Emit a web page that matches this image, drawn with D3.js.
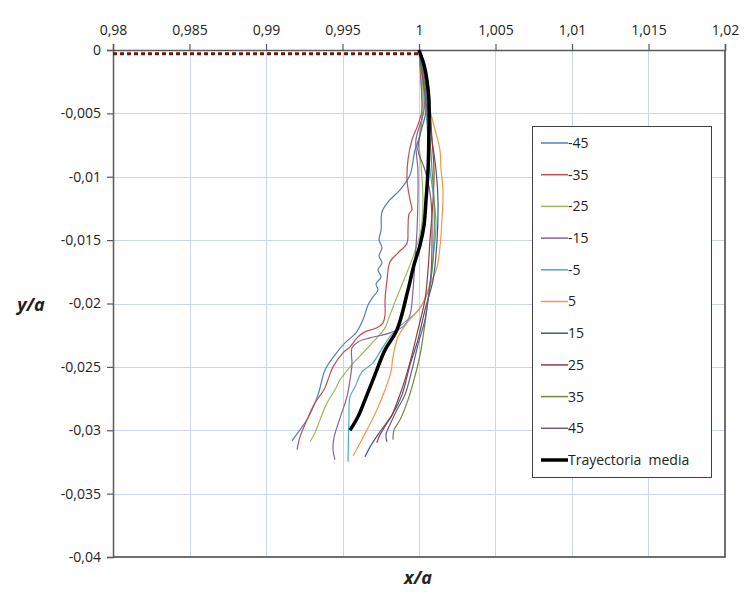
<!DOCTYPE html>
<html>
<head>
<meta charset="utf-8">
<script src="https://cdn.jsdelivr.net/npm/d3@7"></script>
<style>
  body { margin: 0; background: #fff; }
  svg { display: block; font-family: "Open Sans", "Liberation Sans", sans-serif; }
</style>
</head>
<body>
<div id="chart"></div>
<script>
const width = 744
const height = 592

// tick values
const xTicks = [0.98, 0.985, 0.99, 0.995, 1, 1.005, 1.01, 1.015, 1.02]
const yTicks = [0, -0.005, -0.01, -0.015, -0.02, -0.025, -0.03, -0.035, -0.04]

// series names, legend order
const seriesNames = ['-45', '-35', '-25', '-15', '-5', '5', '15', '25', '35', '45']
const seriesColors = ['#4F81BD', '#C0504D', '#9BBB59', '#8064A2', '#4BACC6', '#F79646', '#3D5C82', '#9A3B38', '#6E8A3A', '#6A5A85']

// [x/a, y/a]
const sM45 = [[1,0],[1.00013,-0.00237],[1.0002,-0.00473],[1.00007,-0.0067],[0.99974,-0.00789],[0.99941,-0.00986],[0.99876,-0.01104],[0.99797,-0.01199],[0.99758,-0.01278],[0.99752,-0.0142],[0.99739,-0.01498],[0.99758,-0.01561],[0.99739,-0.01625],[0.99758,-0.0168],[0.99732,-0.01735],[0.99752,-0.0179],[0.99719,-0.01845],[0.99732,-0.01893],[0.99699,-0.01948],[0.99667,-0.02011],[0.99634,-0.02129],[0.99588,-0.02232],[0.99516,-0.02311],[0.99451,-0.02405],[0.99386,-0.02524],[0.9934,-0.02721],[0.99275,-0.02902],[0.99222,-0.02997],[0.9917,-0.03083]]
const sM35 = [[1,0],[1.00013,-0.00237],[1.0002,-0.00473],[0.99993,-0.00591],[0.99954,-0.0071],[0.99928,-0.00867],[0.99922,-0.01025],[0.99941,-0.01183],[0.99954,-0.01262],[0.99935,-0.01293],[0.99928,-0.0142],[0.99922,-0.01522],[0.99863,-0.01601],[0.9981,-0.01672],[0.99791,-0.01814],[0.99778,-0.01972],[0.99778,-0.0209],[0.99765,-0.02153],[0.99725,-0.02192],[0.99647,-0.02224],[0.99601,-0.02263],[0.99549,-0.02342],[0.99503,-0.02389],[0.99438,-0.025],[0.99405,-0.02602],[0.99379,-0.02681],[0.9932,-0.02784],[0.99268,-0.02918],[0.99222,-0.03052],[0.99203,-0.03154]]
const sM25 = [[1,0],[1.0002,-0.00237],[1.00026,-0.00473],[1,-0.0071],[1.00013,-0.00907],[1.00026,-0.01183],[1.00013,-0.0142],[0.99961,-0.01632],[0.99928,-0.01735],[0.99856,-0.01948],[0.9981,-0.0209],[0.99778,-0.02192],[0.99712,-0.02287],[0.99634,-0.02389],[0.99549,-0.025],[0.99484,-0.02602],[0.99451,-0.02681],[0.99399,-0.02784],[0.99353,-0.02918],[0.9932,-0.0302],[0.99288,-0.03091]]
const sM15 = [[1,0],[1.00026,-0.00237],[1.00033,-0.00473],[0.9998,-0.0071],[0.99993,-0.00946],[0.99993,-0.01183],[0.99987,-0.0142],[0.99974,-0.01656],[0.99961,-0.01893],[0.99941,-0.0209],[0.99902,-0.02176],[0.9981,-0.02232],[0.9968,-0.02271],[0.99601,-0.02303],[0.99562,-0.0235],[0.99562,-0.02484],[0.99549,-0.02602],[0.99529,-0.02736],[0.99484,-0.02902],[0.99444,-0.0306],[0.99438,-0.03154],[0.99451,-0.03233]]
const sM5 = [[1,0],[1.00026,-0.00237],[1.00046,-0.00473],[1.00059,-0.0071],[1.00072,-0.00946],[1.00098,-0.01183],[1.00111,-0.0138],[1.00098,-0.01577],[1.00085,-0.01735],[1.00052,-0.01932],[0.99987,-0.02066],[0.99908,-0.02145],[0.9983,-0.02232],[0.99765,-0.02342],[0.99699,-0.02468],[0.99627,-0.02539],[0.99582,-0.02658],[0.99549,-0.02736],[0.99542,-0.02918],[0.99536,-0.03249]]
const sP5 = [[1,0],[1.00039,-0.00237],[1.00072,-0.00473],[1.00105,-0.00631],[1.00137,-0.00789],[1.00144,-0.00946],[1.00157,-0.01104],[1.0015,-0.01341],[1.00137,-0.01554],[1.00118,-0.01711],[1.00059,-0.01893],[1.0002,-0.02011],[0.99922,-0.02153],[0.99863,-0.02263],[0.9983,-0.02421],[0.99817,-0.02539],[0.99778,-0.02681],[0.99725,-0.02839],[0.9966,-0.02997],[0.99601,-0.03131],[0.99569,-0.03202]]
const sP15 = [[1,0],[1.00033,-0.00237],[1.00059,-0.00473],[1.00085,-0.0071],[1.00111,-0.00946],[1.00124,-0.01183],[1.00118,-0.01498],[1.00092,-0.01814],[1.00039,-0.0205],[0.99993,-0.02287],[0.99941,-0.02484],[0.99889,-0.02721],[0.99824,-0.02879],[0.99745,-0.03012],[0.9968,-0.03131],[0.99647,-0.0321]]
const sP25 = [[1,0],[1.00039,-0.00237],[1.00072,-0.00473],[1.00085,-0.0071],[1.00098,-0.00946],[1.00092,-0.01183],[1.00072,-0.01498],[1.00059,-0.01735],[1.00039,-0.01972],[0.99993,-0.02208],[0.99954,-0.02405],[0.99908,-0.02602],[0.99863,-0.0276],[0.99824,-0.02879],[0.99784,-0.02957],[0.99739,-0.03052],[0.99725,-0.03099]]
const sP35 = [[1,0],[1.00033,-0.00237],[1.00052,-0.00473],[1.00072,-0.0071],[1.00085,-0.00946],[1.00098,-0.01183],[1.00098,-0.01498],[1.00085,-0.01735],[1.00059,-0.01972],[1.00033,-0.02208],[1.00007,-0.02405],[0.99967,-0.02602],[0.99928,-0.0276],[0.99876,-0.02918],[0.99837,-0.02997],[0.9983,-0.03075]]
const sP45 = [[1,0],[1.00026,-0.00237],[1.00046,-0.00473],[1.00007,-0.0067],[0.99993,-0.00789],[1.00039,-0.00946],[1.00078,-0.01183],[1.00085,-0.01498],[1.00078,-0.01774],[1.00059,-0.01972],[1.00039,-0.02129],[0.99993,-0.02326],[0.99954,-0.02524],[0.99908,-0.02721],[0.99856,-0.02839],[0.9981,-0.02957],[0.99784,-0.03036],[0.99791,-0.03091]]
const meanPath = [[1,0],[1.00033,-0.00118],[1.00052,-0.00237],[1.00065,-0.00394],[1.00065,-0.00631],[1.00059,-0.00946],[1.00046,-0.01183],[1.00033,-0.0138],[1.00007,-0.01538],[0.99967,-0.01696],[0.99928,-0.01893],[0.99856,-0.02208],[0.99778,-0.02366],[0.99712,-0.02563],[0.99647,-0.0276],[0.99601,-0.02894],[0.99549,-0.03]]
// dotted reference line near y/a = 0
const dottedLine = [[0.98,-0.0003],[1,-0.0003]]

const allSeries = [sM45, sM35, sM25, sM15, sM5, sP5, sP15, sP25, sP35, sP45]

const margin = {top: 50, left: 113, right: 19, bottom: 35}
const plotW = width - margin.left - margin.right
const plotH = height - margin.top - margin.bottom

const fmt = v => (v === 0 ? '0' : String(+v.toFixed(4))).replace('.', ',')

const svg = d3.select('#chart')
    .append('svg')
    .attr('width', width)
    .attr('height', height)

const x = d3.scaleLinear().domain([0.98, 1.02]).range([margin.left, margin.left + plotW])
const y = d3.scaleLinear().domain([-0.04, 0]).range([margin.top + plotH, margin.top])

// grid
const grid = svg.append('g').attr('stroke', '#c9d5e8').attr('stroke-width', 1)
grid.selectAll('line.gx')
    .data(xTicks.slice(1, -1))
    .join('line')
    .attr('class', 'gx')
    .attr('x1', d => Math.round(x(d)) + 0.5).attr('x2', d => Math.round(x(d)) + 0.5)
    .attr('y1', y(0)).attr('y2', y(-0.04))
grid.selectAll('line.gy')
    .data(yTicks.slice(1, -1))
    .join('line')
    .attr('class', 'gy')
    .attr('y1', d => Math.round(y(d)) + 0.5).attr('y2', d => Math.round(y(d)) + 0.5)
    .attr('x1', x(0.98)).attr('x2', x(1.02))

// plot border (right + bottom)
svg.append('path')
    .attr('d', `M${x(1.02)},${y(0)}V${y(-0.04)}H${x(0.98)}`)
    .attr('fill', 'none')
    .attr('stroke', '#404040')
    .attr('stroke-width', 1.5)

// axes
const xAxis = svg.append('g')
    .attr('transform', `translate(0,${y(0)})`)
    .call(d3.axisTop(x).tickValues(xTicks).tickFormat(fmt).tickSizeOuter(0).tickSize(6))
const yAxis = svg.append('g')
    .attr('transform', `translate(${x(0.98)},0)`)
    .call(d3.axisLeft(y).tickValues(yTicks).tickFormat(fmt).tickSizeOuter(0).tickSize(6))

for (const ax of [xAxis, yAxis]) {
    ax.select('.domain').attr('stroke', '#5a5a5a').attr('stroke-width', 1.5)
    ax.selectAll('.tick line').attr('stroke', '#5a5a5a').attr('stroke-width', 1.2)
    ax.selectAll('.tick text')
        .attr('fill', '#222')
        .style('font-size', '14px')
        .style('font-family', '"Open Sans", "Liberation Sans", sans-serif')
}
xAxis.selectAll('.tick text').attr('dy', '-0.45em')
yAxis.selectAll('.tick text').attr('x', -12)

// series
const line = d3.line()
    .x(d => x(d[0]))
    .y(d => y(d[1]))
    .curve(d3.curveCatmullRom.alpha(0.5))

svg.append('g')
    .selectAll('path')
    .data(allSeries)
    .join('path')
    .attr('d', line)
    .attr('fill', 'none')
    .attr('stroke', (d, i) => seriesColors[i])
    .attr('stroke-width', 1.2)

svg.append('path')
    .attr('d', line(meanPath))
    .attr('fill', 'none')
    .attr('stroke', '#000')
    .attr('stroke-width', 3.5)

svg.append('path')
    .attr('d', d3.line().x(d => x(d[0])).y(d => y(d[1]))(dottedLine))
    .attr('fill', 'none')
    .attr('stroke', '#6b1a0a')
    .attr('stroke-width', 3)
    .attr('stroke-dasharray', '4,3')

// legend
const legend = svg.append('g').attr('transform', 'translate(532,126)')
legend.append('rect')
    .attr('x', 0.5).attr('y', 0.5)
    .attr('width', 179).attr('height', 351)
    .attr('fill', '#fff')
    .attr('stroke', '#404040')
    .attr('stroke-width', 1)

const legendItems = seriesNames.map((n, i) => ({name: n, color: seriesColors[i], w: 1.5}))
legendItems.push({name: 'Trayectoria  media', color: '#000', w: 3.5})

const li = legend.selectAll('g.item')
    .data(legendItems)
    .join('g')
    .attr('class', 'item')
    .attr('transform', (d, i) => `translate(0,${17 + i * 31.7})`)
li.append('line')
    .attr('x1', 9).attr('x2', 36)
    .attr('stroke', d => d.color)
    .attr('stroke-width', d => d.w)
li.append('text')
    .attr('x', 36)
    .attr('dy', '0.35em')
    .attr('fill', '#222')
    .style('font-size', '14px')
    .style('white-space', 'pre')
    .text(d => d.name)

// axis titles
svg.append('text')
    .attr('x', 418).attr('y', 584)
    .attr('text-anchor', 'middle')
    .style('font-size', '18px')
    .style('font-weight', 'bold')
    .style('font-style', 'italic')
    .attr('fill', '#222')
    .text('x/a')
svg.append('text')
    .attr('x', 31).attr('y', 311)
    .attr('text-anchor', 'middle')
    .style('font-size', '18px')
    .style('font-weight', 'bold')
    .style('font-style', 'italic')
    .attr('fill', '#222')
    .text('y/a')
</script>
</body>
</html>
